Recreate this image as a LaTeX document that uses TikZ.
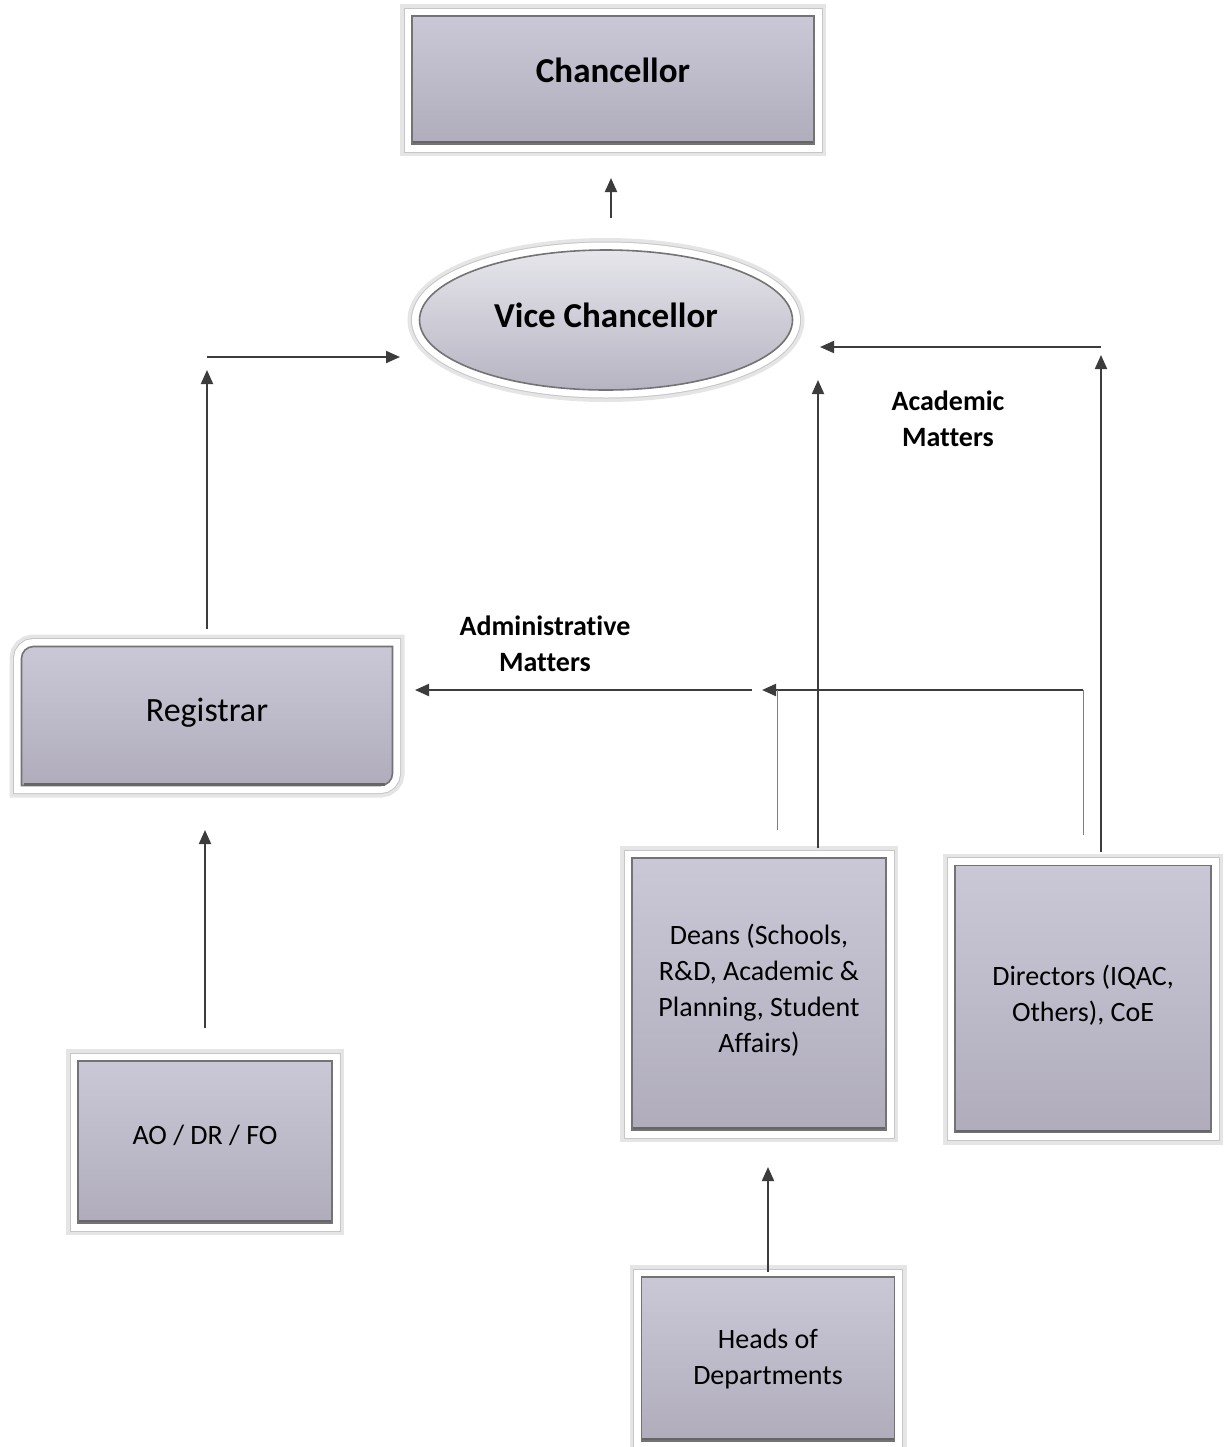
\documentclass[tikz,border=0pt]{standalone}
\usepackage{fontspec}
\setmainfont{Carlito}[Ligatures=NoCommon]
\usetikzlibrary{arrows.meta,shapes.geometric,backgrounds}

\definecolor{boxtop}{RGB}{202,200,214}
\definecolor{boxbot}{RGB}{176,172,188}
\definecolor{ovaltop}{RGB}{230,230,236}
\definecolor{ovalbot}{RGB}{182,180,194}
\definecolor{linkgray}{RGB}{60,60,60}

\tikzset{
  whiteframe/.style={preaction={draw=black!10, line width=12pt},
    preaction={draw=gray!45, line width=8.5pt},
    preaction={draw=white, line width=7.5pt},
    draw=black!55, line width=.8pt},
  bevel/.style={path picture={\draw[black!60, line width=2.6pt]
    (path picture bounding box.south west) -- (path picture bounding box.south east);}},
  lift/.style={execute at end node={\rule[-#1]{0pt}{0pt}}},
  box/.style={whiteframe, bevel, rectangle, top color=boxtop, bottom color=boxbot,
    align=center, inner sep=2pt, outer sep=0pt, font=\fontsize{14}{18}\selectfont},
  oval/.style={whiteframe, ellipse, top color=ovaltop, bottom color=ovalbot,
    inner sep=0pt, outer sep=0pt, font=\bfseries\fontsize{17.5}{21}\selectfont},
  regbox/.style={rectangle, inner sep=2pt, outer sep=0pt, font=\fontsize{17}{21}\selectfont},
  lbl/.style={align=center, font=\bfseries\fontsize{14}{18}\selectfont},
  arr/.style={draw=linkgray, line width=1pt, -{Triangle[length=7pt,width=6pt]}},
  linkthin/.style={draw=gray, line width=.5pt}
}

\begin{document}
\begin{tikzpicture}[x=0.5pt,y=-0.5pt]
\useasboundingbox (0,0) rectangle (1223,1447);

% boxes
\node[box, lift=10pt, minimum width=201pt, minimum height=64pt, font=\bfseries\fontsize{17.5}{21}\selectfont] (chan) at (613,80) {Chancellor};
\node[oval, lift=5pt, minimum width=186.5pt, minimum height=70pt] (vc) at (606,320) {Vice Chancellor};
\node[regbox, lift=6pt, minimum width=185.5pt, minimum height=69.5pt] (reg) at (207,716) {Registrar};
\node[box, lift=7pt, minimum width=127pt, minimum height=81pt] (ao) at (205,1142) {AO / DR / FO};
\node[box, lift=6pt, minimum width=127pt, minimum height=136pt] (deans) at (759,994) {Deans (Schools,\\R\&D, Academic \&\\Planning, Student\\Affairs)};
\node[box, lift=6pt, minimum width=128pt, minimum height=133.5pt] (dirs) at (1083,999) {Directors (IQAC,\\Others), CoE};
\node[box, lift=2pt, minimum width=126.5pt, minimum height=82pt] (hods) at (768,1359) {Heads of\\Departments};

% registrar frame, two round corners
\begin{scope}[on background layer]
\path[whiteframe, top color=boxtop, bottom color=boxbot]
  (reg.west) [rounded corners=6pt] -- (reg.north west) [sharp corners] -- (reg.north east)
  [rounded corners=6pt] -- (reg.south east) [sharp corners] -- (reg.south west) -- cycle;
\draw[black!60, line width=1.3pt] ([xshift=1pt,yshift=.6pt]reg.south west) -- ([xshift=-4pt,yshift=.6pt]reg.south east);
\end{scope}

\node[lbl] (acad) at (948,419) {Academic\\Matters};
\node[lbl] (admin) at (545,644) {Administrative\\Matters};

\coordinate (regbend) at (207,357);
\coordinate (acadtop) at (818,380);
\coordinate (dirbend) at (1101,347);
\coordinate (dirleft) at (1083,690);
\coordinate (deanleft) at (777,690);

% links
\draw[arr, shorten <=16pt, shorten >=17pt] ([xshift=2.5pt]vc.north) -- ([xshift=2.5pt]vc.north |- chan.south);
\draw[arr, shorten <=9pt, shorten >=6.5pt] (reg.north) -- (regbend);
\draw[arr, shorten >=9.75pt] (regbend) -- (regbend -| vc.west);
\draw[arr, shorten <=16.5pt, shorten >=22.25pt] (ao.north) -- (ao.north |- reg.south);
\draw[arr, shorten <=2.5pt, shorten >=18.5pt] (hods.north) -- (hods.north |- deans.south);
\draw[arr, shorten <=5pt] (deans.north -| acadtop) -- (acadtop);
\draw[arr, shorten <=6.75pt, shorten >=4pt] (dirs.north -| dirbend) -- (dirbend);
\draw[arr, shorten >=13.75pt] (dirbend) -- (dirbend -| vc.east);
\draw[linkthin, shorten <=15.25pt] (dirs.north -| dirleft) -- (dirleft);
\draw[arr, shorten >=-7.5pt] (dirleft) -- (deanleft);
\draw[linkthin, shorten <=14pt] (deans.north -| deanleft) -- (deanleft);
\draw[arr, shorten <=12.5pt, shorten >=11.25pt] (deanleft) -- (deanleft -| reg.east);
\end{tikzpicture}
\end{document}
